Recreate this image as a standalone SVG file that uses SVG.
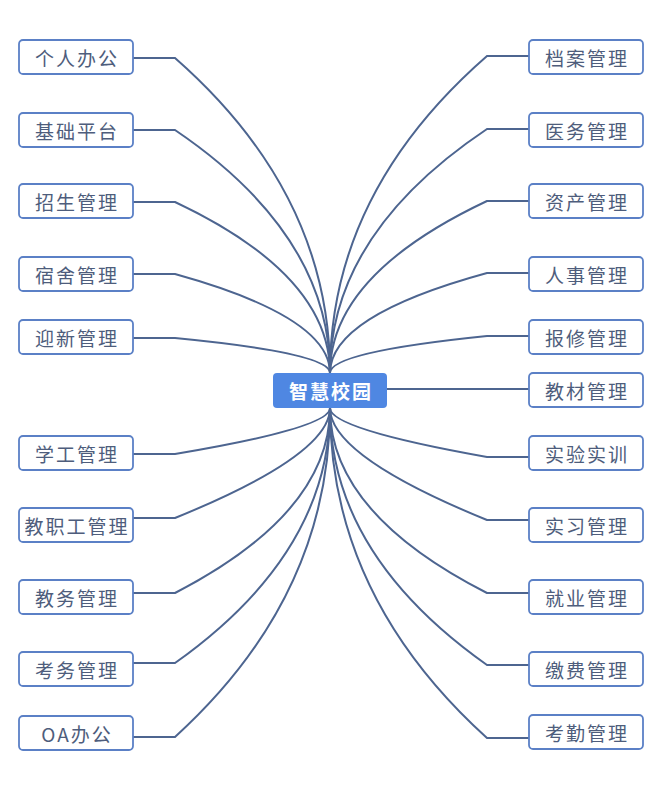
<svg xmlns="http://www.w3.org/2000/svg" width="660" height="791" viewBox="0 0 660 791">
<style>
.box{fill:#ffffff;stroke:#5b80c6;stroke-width:1.8}
.t{font-family:"Noto Sans CJK SC","Noto Sans",sans-serif;font-size:19px;fill:#4e5d7c;text-anchor:middle;dominant-baseline:central;letter-spacing:2px}
.c{fill:none;stroke:#4d6590;stroke-width:2}
.root{fill:#4f87e2}
.rt{font-family:"Noto Sans CJK SC","Noto Sans",sans-serif;font-size:19px;font-weight:bold;fill:#ffffff;text-anchor:middle;dominant-baseline:central;letter-spacing:2px}
</style>
<rect width="660" height="791" fill="#ffffff"/>
<g id="connectors">
<path class="c" d="M133 58H175Q330 194 330 373"/>
<path class="c" d="M133 130H175Q330 235 330 373"/>
<path class="c" d="M133 202H175Q330 275 330 373"/>
<path class="c" d="M133 274H175Q330 317 330 373"/>
<path class="c" d="M133 338H175Q330 353 330 373"/>
<path class="c" d="M133 454H175Q330 428 330 408"/>
<path class="c" d="M133 518H175Q330 455 330 408"/>
<path class="c" d="M133 593H175Q330 513 330 408"/>
<path class="c" d="M133 663H175Q330 553 330 408"/>
<path class="c" d="M133 737H175Q330 596 330 408"/>
<path class="c" d="M529 56H487Q330 193 330 373"/>
<path class="c" d="M529 129H487Q330 234 330 373"/>
<path class="c" d="M529 201H487Q330 275 330 373"/>
<path class="c" d="M529 273H487Q330 316 330 373"/>
<path class="c" d="M529 336H487Q330 352 330 373"/>
<path class="c" d="M387 389H529"/>
<path class="c" d="M529 457H487Q330 429 330 408"/>
<path class="c" d="M529 520H487Q330 456 330 408"/>
<path class="c" d="M529 593H487Q330 513 330 408"/>
<path class="c" d="M529 665H487Q330 554 330 408"/>
<path class="c" d="M529 738H487Q330 596 330 408"/>
</g>
<g id="root"><rect class="root" x="273" y="373" width="114" height="35" rx="4"/><text class="rt" x="331" y="390.5">智慧校园</text></g>
<g id="l1"><rect class="box" x="19" y="40" width="114" height="34" rx="4"/><text class="t" x="77" y="57">个人办公</text></g>
<g id="l2"><rect class="box" x="19" y="113" width="114" height="34" rx="4"/><text class="t" x="77" y="130">基础平台</text></g>
<g id="l3"><rect class="box" x="19" y="184" width="114" height="34" rx="4"/><text class="t" x="77" y="201">招生管理</text></g>
<g id="l4"><rect class="box" x="19" y="257" width="114" height="34" rx="4"/><text class="t" x="77" y="274">宿舍管理</text></g>
<g id="l5"><rect class="box" x="19" y="320" width="114" height="34" rx="4"/><text class="t" x="77" y="337">迎新管理</text></g>
<g id="l6"><rect class="box" x="19" y="436" width="114" height="34" rx="4"/><text class="t" x="77" y="453">学工管理</text></g>
<g id="l7"><rect class="box" x="19" y="508" width="114" height="34" rx="4"/><text class="t" x="77" y="525">教职工管理</text></g>
<g id="l8"><rect class="box" x="19" y="580" width="114" height="34" rx="4"/><text class="t" x="77" y="597">教务管理</text></g>
<g id="l9"><rect class="box" x="19" y="652" width="114" height="34" rx="4"/><text class="t" x="77" y="669">考务管理</text></g>
<g id="l10"><rect class="box" x="19" y="716" width="114" height="34" rx="4"/><text class="t" x="77" y="733">OA办公</text></g>
<g id="r1"><rect class="box" x="529" y="40" width="114" height="34" rx="4"/><text class="t" x="587" y="57">档案管理</text></g>
<g id="r2"><rect class="box" x="529" y="113" width="114" height="34" rx="4"/><text class="t" x="587" y="130">医务管理</text></g>
<g id="r3"><rect class="box" x="529" y="184" width="114" height="34" rx="4"/><text class="t" x="587" y="201">资产管理</text></g>
<g id="r4"><rect class="box" x="529" y="257" width="114" height="34" rx="4"/><text class="t" x="587" y="274">人事管理</text></g>
<g id="r5"><rect class="box" x="529" y="320" width="114" height="34" rx="4"/><text class="t" x="587" y="337">报修管理</text></g>
<g id="r6"><rect class="box" x="529" y="373" width="114" height="34" rx="4"/><text class="t" x="587" y="390">教材管理</text></g>
<g id="r7"><rect class="box" x="529" y="436" width="114" height="34" rx="4"/><text class="t" x="587" y="453">实验实训</text></g>
<g id="r8"><rect class="box" x="529" y="508" width="114" height="34" rx="4"/><text class="t" x="587" y="525">实习管理</text></g>
<g id="r9"><rect class="box" x="529" y="580" width="114" height="34" rx="4"/><text class="t" x="587" y="597">就业管理</text></g>
<g id="r10"><rect class="box" x="529" y="652" width="114" height="34" rx="4"/><text class="t" x="587" y="669">缴费管理</text></g>
<g id="r11"><rect class="box" x="529" y="715" width="114" height="34" rx="4"/><text class="t" x="587" y="732">考勤管理</text></g>
</svg>
